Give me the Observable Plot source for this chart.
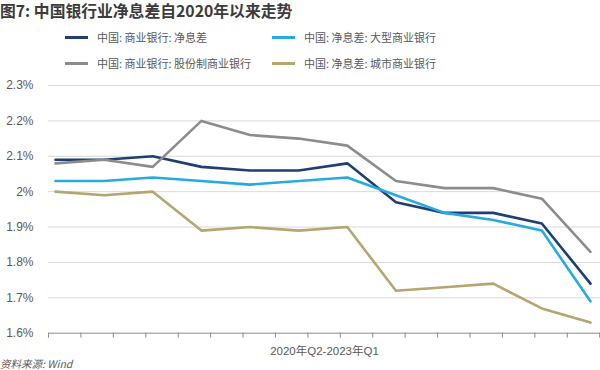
<!DOCTYPE html>
<html><head><meta charset="utf-8">
<script src="https://cdn.jsdelivr.net/npm/d3@7"></script>
<script src="https://cdn.jsdelivr.net/npm/@observablehq/plot@0.6"></script>
<style>
body{margin:0;background:#fff;font-family:"Noto Sans CJK SC","Noto Sans",sans-serif;}
#wrap{position:relative;width:600px;height:370px;overflow:hidden;}
#title{position:absolute;left:0;top:0;font-size:15.8px;font-weight:bold;color:#3b3b3b;line-height:21px;white-space:nowrap;}
.leg{position:absolute;font-size:11px;color:#595959;line-height:14px;white-space:nowrap;}
.sw{position:absolute;height:3px;width:23px;}
#chart{position:absolute;left:0;top:78px;}
#src{position:absolute;left:0;top:357px;font-size:10.5px;font-style:italic;color:#595959;line-height:14px;}
</style>
</head><body>
<div id="wrap">
  <div id="title"></div>
  <div id="legend"></div>
  <div id="chart"></div>
  <div id="src"></div>
</div>
<script>
const titleText = "图7: 中国银行业净息差自2020年以来走势";
const sourceText = "资料来源: Wind";
const xLabel = "2020年Q2-2023年Q1";
const quarters = ["2020Q2","2020Q3","2020Q4","2021Q1","2021Q2","2021Q3","2021Q4","2022Q1","2022Q2","2022Q3","2022Q4","2023Q1"];
const seriesNames = ["中国: 商业银行: 净息差","中国: 净息差: 大型商业银行","中国: 商业银行: 股份制商业银行","中国: 净息差: 城市商业银行"];
const seriesColors = ["#1f3e74","#27aae1","#8c8c8c","#b5a570"];
const commercial = [2.09,2.09,2.10,2.07,2.06,2.06,2.08,1.97,1.94,1.94,1.91,1.74];
const large      = [2.03,2.03,2.04,2.03,2.02,2.03,2.04,1.99,1.94,1.92,1.89,1.69];
const jointStock = [2.08,2.09,2.07,2.20,2.16,2.15,2.13,2.03,2.01,2.01,1.98,1.83];
const cityBanks  = [2.00,1.99,2.00,1.89,1.90,1.89,1.90,1.72,1.73,1.74,1.67,1.63];
const yTicks = [1.6,1.7,1.8,1.9,2.0,2.1,2.2,2.3];

document.getElementById("title").textContent = titleText;
document.getElementById("src").textContent = sourceText;

// legend
const legend = document.getElementById("legend");
const legPos = [[65,37],[272,37],[65,63],[272,63]];
seriesNames.forEach((n,i)=>{
  const [lx,ly] = legPos[i];
  const sw = document.createElement("div");
  sw.className="sw"; sw.style.left=lx+"px"; sw.style.top=(ly-1.5)+"px"; sw.style.background=seriesColors[i];
  legend.appendChild(sw);
  const t = document.createElement("div");
  t.className="leg"; t.style.left=(lx+32)+"px"; t.style.top=(ly-7.5)+"px"; t.textContent=n;
  legend.appendChild(t);
});

const allSeries = [commercial, large, jointStock, cityBanks];
const data = [];
allSeries.forEach((arr,si)=>arr.forEach((v,i)=>data.push({i, q:quarters[i], v, s:seriesNames[si]})));

// minor category tick marks along the axis (every 2/3 of a quarter step)
const xTickMarks = d3.range(18).map(k => -0.144 + k*2/3);

const chart = Plot.plot({
  width: 600,
  height: 282,
  marginLeft: 48,
  marginRight: 0,
  marginTop: 7,
  marginBottom: 27.3,
  style: {fontFamily: '"Liberation Sans","Noto Sans CJK SC",sans-serif', fontSize: "12px", color: "#595959", background: "#fff"},
  x: {type: "linear", domain: [-0.144, 11.206], axis: null},
  y: {domain: [1.6, 2.3], axis: null},
  color: {domain: seriesNames, range: seriesColors},
  marks: [
    Plot.gridY(yTicks.filter(d => d > 1.6), {stroke: "#d9d9d9", strokeOpacity: 1, strokeWidth: 1}),
    Plot.axisY(yTicks, {tickSize: 0, tickPadding: 15, fill: "#595959", label: null,
      tickFormat: d => (+d.toFixed(1)) + "%", fontSize: 12}),
    Plot.ruleY([1.6], {stroke: "#8a8a8a", strokeWidth: 1}),
    Plot.axisX(xTickMarks, {tickSize: 5, stroke: "#8a8a8a", tickFormat: () => "", label: null}),
    Plot.text([xLabel], {frameAnchor: "bottom", dy: 22, fill: "#595959", fontSize: 11.5,
      fontFamily: '"Liberation Sans","Noto Sans CJK SC",sans-serif'}),
    Plot.line(data, {x: "i", y: "v", z: "s", stroke: "s", strokeWidth: 2.6, strokeLinejoin: "round", curve: "linear"})
  ]
});
document.getElementById("chart").appendChild(chart);
</script>
</body></html>
